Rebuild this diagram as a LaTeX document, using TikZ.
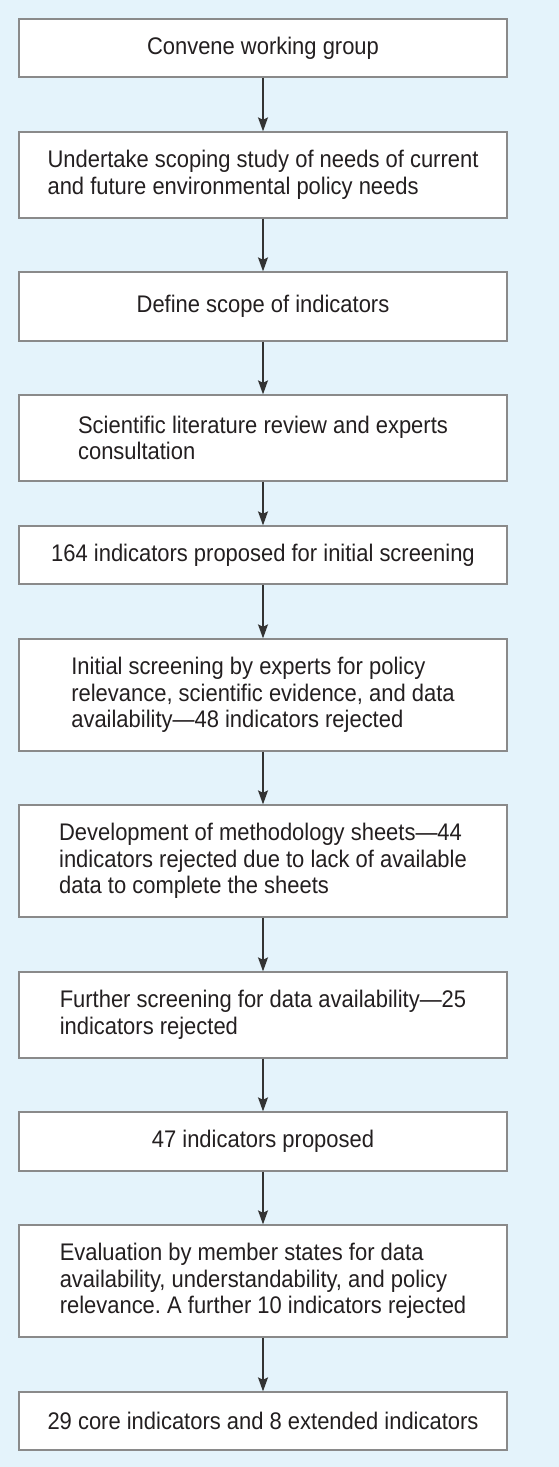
\documentclass[tikz,border=0pt]{standalone}
\usepackage{fontspec}
\setmainfont{Liberation Sans}[FakeStretch=0.915]
\usetikzlibrary{arrows.meta}
\frenchspacing
\definecolor{bg}{HTML}{E4F3FB}
\definecolor{frame}{HTML}{8A8A8A}
\definecolor{ink}{HTML}{231F20}
\definecolor{arrowc}{HTML}{333333}
\tikzset{
  stepbox/.style={draw=frame, line width=1.3pt, fill=white, minimum width=488pt, inner sep=0pt, text=ink, font=\fontsize{24pt}{26.7pt}\selectfont},
  multi/.style={stepbox, align=left},
  arr/.style={draw=arrowc, line width=1.5pt, -{Stealth[length=14pt,width=10pt,inset=2.5pt]}}
}
\begin{document}
\begin{tikzpicture}[x=1pt,y=1pt]
\useasboundingbox (0,0) rectangle (559,-1467);
\fill[bg] (0,0) rectangle (559,-1467);
\node[stepbox, minimum height=58pt] (b1) at (263,-48) {Convene working group};
\node[multi, minimum height=86pt] (b2) at (263,-175) {Undertake scoping study of needs of current\\and future environmental policy needs};
\node[stepbox, minimum height=69pt] (b3) at (263,-306.5) {Define scope of indicators};
\node[multi, minimum height=86pt] (b4) at (263,-438) {Scientific literature review and experts\\consultation\hphantom{ review and experts}};
\node[stepbox, minimum height=58pt] (b5) at (263,-555) {164 indicators proposed for initial screening};
\node[multi, minimum height=112pt] (b6) at (263,-695) {Initial screening by experts for policy\\relevance, scientific evidence, and data\\availability—48 indicators rejected};
\node[multi, minimum height=112pt] (b7) at (263,-861) {Development of methodology sheets—44\\indicators rejected due to lack of available\\data to complete the sheets};
\node[multi, minimum height=86pt] (b8) at (263,-1015) {Further screening for data availability—25\\indicators rejected};
\node[stepbox, minimum height=59pt] (b9) at (263,-1141.5) {47 indicators proposed};
\node[multi, minimum height=112pt] (b10) at (263,-1281) {Evaluation by member states for data\\availability, understandability, and policy\\relevance. A further 10 indicators rejected};
\node[stepbox, minimum height=58pt] (b11) at (263,-1421) {29 core indicators and 8 extended indicators};
\foreach \a/\b in {b1/b2,b2/b3,b3/b4,b4/b5,b5/b6,b6/b7,b7/b8,b8/b9,b9/b10,b10/b11}
  \draw[arr] (\a.south) -- (\b.north);
\end{tikzpicture}
\end{document}
